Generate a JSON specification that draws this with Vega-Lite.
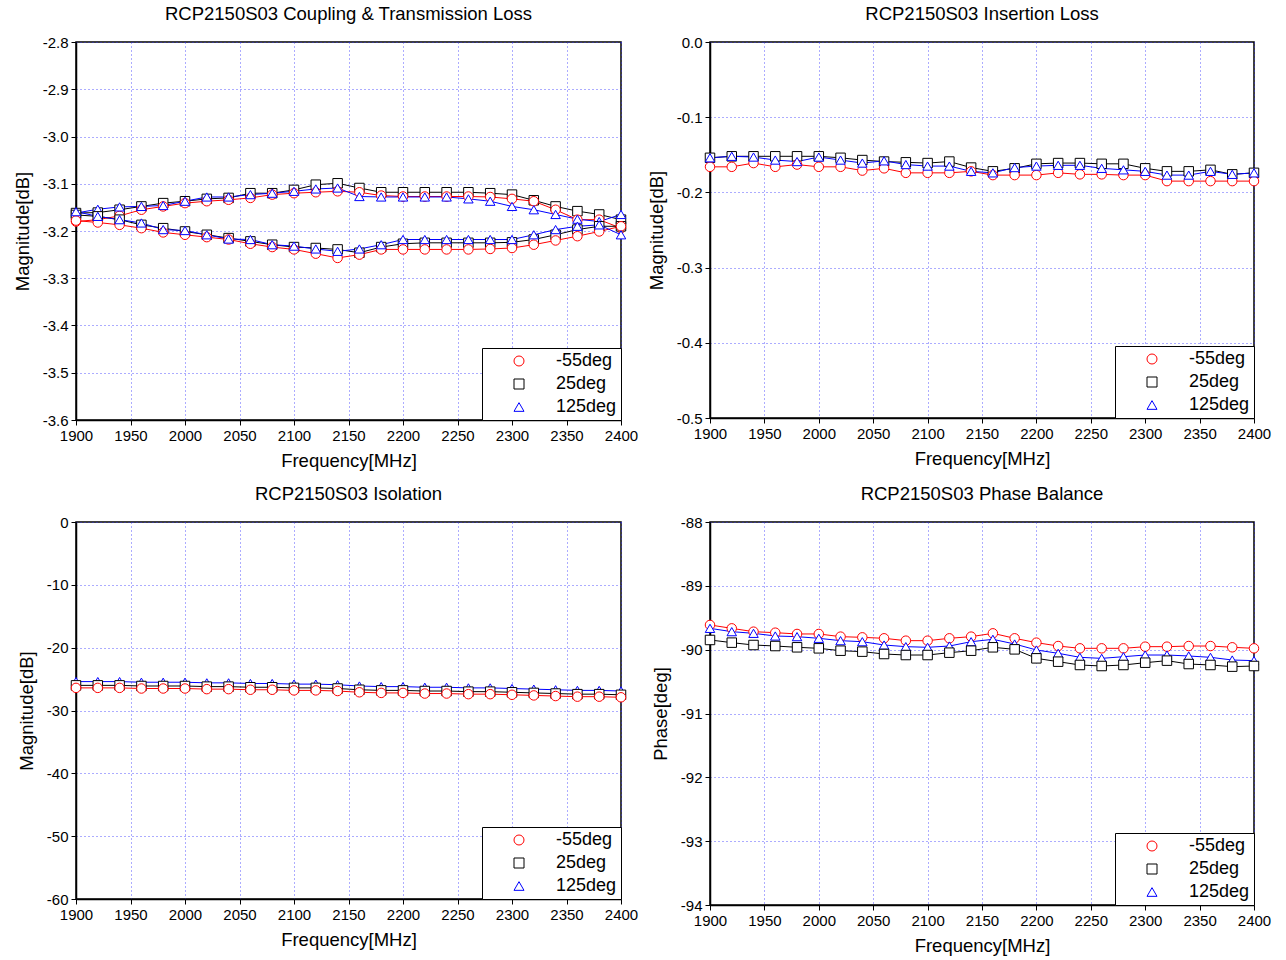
{
  "$schema": "https://vega.github.io/schema/vega-lite/v6.json",
  "background": "white",
  "padding": {"left": 12, "top": 3, "right": 5, "bottom": 0},
  "config": {
    "font": "Liberation Sans",
    "view": {"stroke": "black", "strokeWidth": 1.5},
    "title": {"fontSize": 18.5, "fontWeight": "normal", "font": "Liberation Sans", "color": "black", "offset": 12},
    "axis": {
      "labelFont": "Liberation Sans", "labelFontSize": 15, "labelColor": "black", "labelFlush": false,
      "labelExpr": "replace(datum.label, '\u2212', '-')",
      "titleFont": "Liberation Sans", "titleFontSize": 18.5, "titleFontWeight": "normal", "titleColor": "black",
      "gridColor": "#3030ff", "gridDash": [1, 3], "gridOpacity": 0.8, "gridWidth": 1,
      "domainColor": "black", "domainWidth": 1.5, "tickColor": "black", "tickSize": 5
    },
    "axisX": {"labelPadding": 3, "titlePadding": 8},
    "axisY": {"labelPadding": 3, "titlePadding": 10},
    "legend": {
      "orient": "bottom-right", "offset": 0, "strokeColor": "black", "fillColor": "white",
      "padding": 4, "labelFontSize": 18, "labelFont": "Liberation Sans", "labelColor": "black",
      "symbolSize": 100, "symbolStrokeWidth": 1, "symbolFillColor": "white", "rowPadding": 5,
      "symbolOffset": 24, "labelOffset": 28, "labelAlign": "left",
      "title": null, "labelLimit": 200
    }
  },
  "resolve": {"scale": {"color": "independent", "shape": "independent", "x": "independent", "y": "independent"}, "legend": {"color": "independent", "shape": "independent"}},
  "datasets": {
    "cp": [
      {"t":"25deg","c":"u","f":1900,"v":-3.162},{"t":"25deg","c":"u","f":1920,"v":-3.161},{"t":"25deg","c":"u","f":1940,"v":-3.155},{"t":"25deg","c":"u","f":1960,"v":-3.148},{"t":"25deg","c":"u","f":1980,"v":-3.141},{"t":"25deg","c":"u","f":2000,"v":-3.137},{"t":"25deg","c":"u","f":2020,"v":-3.132},{"t":"25deg","c":"u","f":2040,"v":-3.130},{"t":"25deg","c":"u","f":2060,"v":-3.120},{"t":"25deg","c":"u","f":2080,"v":-3.120},{"t":"25deg","c":"u","f":2100,"v":-3.113},{"t":"25deg","c":"u","f":2120,"v":-3.102},{"t":"25deg","c":"u","f":2140,"v":-3.099},{"t":"25deg","c":"u","f":2160,"v":-3.109},{"t":"25deg","c":"u","f":2180,"v":-3.118},{"t":"25deg","c":"u","f":2200,"v":-3.118},{"t":"25deg","c":"u","f":2220,"v":-3.118},{"t":"25deg","c":"u","f":2240,"v":-3.118},{"t":"25deg","c":"u","f":2260,"v":-3.118},{"t":"25deg","c":"u","f":2280,"v":-3.120},{"t":"25deg","c":"u","f":2300,"v":-3.123},{"t":"25deg","c":"u","f":2320,"v":-3.135},{"t":"25deg","c":"u","f":2340,"v":-3.148},{"t":"25deg","c":"u","f":2360,"v":-3.158},{"t":"25deg","c":"u","f":2380,"v":-3.165},{"t":"25deg","c":"u","f":2400,"v":-3.176},
      {"t":"-55deg","c":"u","f":1900,"v":-3.180},{"t":"-55deg","c":"u","f":1920,"v":-3.176},{"t":"-55deg","c":"u","f":1940,"v":-3.168},{"t":"-55deg","c":"u","f":1960,"v":-3.155},{"t":"-55deg","c":"u","f":1980,"v":-3.148},{"t":"-55deg","c":"u","f":2000,"v":-3.141},{"t":"-55deg","c":"u","f":2020,"v":-3.137},{"t":"-55deg","c":"u","f":2040,"v":-3.134},{"t":"-55deg","c":"u","f":2060,"v":-3.130},{"t":"-55deg","c":"u","f":2080,"v":-3.123},{"t":"-55deg","c":"u","f":2100,"v":-3.120},{"t":"-55deg","c":"u","f":2120,"v":-3.118},{"t":"-55deg","c":"u","f":2140,"v":-3.116},{"t":"-55deg","c":"u","f":2160,"v":-3.118},{"t":"-55deg","c":"u","f":2180,"v":-3.125},{"t":"-55deg","c":"u","f":2200,"v":-3.127},{"t":"-55deg","c":"u","f":2220,"v":-3.127},{"t":"-55deg","c":"u","f":2240,"v":-3.127},{"t":"-55deg","c":"u","f":2260,"v":-3.127},{"t":"-55deg","c":"u","f":2280,"v":-3.128},{"t":"-55deg","c":"u","f":2300,"v":-3.132},{"t":"-55deg","c":"u","f":2320,"v":-3.137},{"t":"-55deg","c":"u","f":2340,"v":-3.155},{"t":"-55deg","c":"u","f":2360,"v":-3.176},{"t":"-55deg","c":"u","f":2380,"v":-3.176},{"t":"-55deg","c":"u","f":2400,"v":-3.194},
      {"t":"125deg","c":"u","f":1900,"v":-3.162},{"t":"125deg","c":"u","f":1920,"v":-3.154},{"t":"125deg","c":"u","f":1940,"v":-3.149},{"t":"125deg","c":"u","f":1960,"v":-3.148},{"t":"125deg","c":"u","f":1980,"v":-3.146},{"t":"125deg","c":"u","f":2000,"v":-3.137},{"t":"125deg","c":"u","f":2020,"v":-3.128},{"t":"125deg","c":"u","f":2040,"v":-3.128},{"t":"125deg","c":"u","f":2060,"v":-3.123},{"t":"125deg","c":"u","f":2080,"v":-3.120},{"t":"125deg","c":"u","f":2100,"v":-3.116},{"t":"125deg","c":"u","f":2120,"v":-3.111},{"t":"125deg","c":"u","f":2140,"v":-3.109},{"t":"125deg","c":"u","f":2160,"v":-3.127},{"t":"125deg","c":"u","f":2180,"v":-3.128},{"t":"125deg","c":"u","f":2200,"v":-3.128},{"t":"125deg","c":"u","f":2220,"v":-3.128},{"t":"125deg","c":"u","f":2240,"v":-3.128},{"t":"125deg","c":"u","f":2260,"v":-3.132},{"t":"125deg","c":"u","f":2280,"v":-3.137},{"t":"125deg","c":"u","f":2300,"v":-3.148},{"t":"125deg","c":"u","f":2320,"v":-3.155},{"t":"125deg","c":"u","f":2340,"v":-3.165},{"t":"125deg","c":"u","f":2360,"v":-3.175},{"t":"125deg","c":"u","f":2380,"v":-3.180},{"t":"125deg","c":"u","f":2400,"v":-3.165},
      {"t":"25deg","c":"l","f":1900,"v":-3.166},{"t":"25deg","c":"l","f":1920,"v":-3.169},{"t":"25deg","c":"l","f":1940,"v":-3.176},{"t":"25deg","c":"l","f":1960,"v":-3.187},{"t":"25deg","c":"l","f":1980,"v":-3.194},{"t":"25deg","c":"l","f":2000,"v":-3.201},{"t":"25deg","c":"l","f":2020,"v":-3.208},{"t":"25deg","c":"l","f":2040,"v":-3.215},{"t":"25deg","c":"l","f":2060,"v":-3.222},{"t":"25deg","c":"l","f":2080,"v":-3.229},{"t":"25deg","c":"l","f":2100,"v":-3.234},{"t":"25deg","c":"l","f":2120,"v":-3.236},{"t":"25deg","c":"l","f":2140,"v":-3.239},{"t":"25deg","c":"l","f":2160,"v":-3.246},{"t":"25deg","c":"l","f":2180,"v":-3.234},{"t":"25deg","c":"l","f":2200,"v":-3.227},{"t":"25deg","c":"l","f":2220,"v":-3.225},{"t":"25deg","c":"l","f":2240,"v":-3.225},{"t":"25deg","c":"l","f":2260,"v":-3.225},{"t":"25deg","c":"l","f":2280,"v":-3.225},{"t":"25deg","c":"l","f":2300,"v":-3.224},{"t":"25deg","c":"l","f":2320,"v":-3.218},{"t":"25deg","c":"l","f":2340,"v":-3.208},{"t":"25deg","c":"l","f":2360,"v":-3.197},{"t":"25deg","c":"l","f":2380,"v":-3.190},{"t":"25deg","c":"l","f":2400,"v":-3.190},
      {"t":"-55deg","c":"l","f":1900,"v":-3.178},{"t":"-55deg","c":"l","f":1920,"v":-3.182},{"t":"-55deg","c":"l","f":1940,"v":-3.187},{"t":"-55deg","c":"l","f":1960,"v":-3.194},{"t":"-55deg","c":"l","f":1980,"v":-3.203},{"t":"-55deg","c":"l","f":2000,"v":-3.208},{"t":"-55deg","c":"l","f":2020,"v":-3.213},{"t":"-55deg","c":"l","f":2040,"v":-3.218},{"t":"-55deg","c":"l","f":2060,"v":-3.227},{"t":"-55deg","c":"l","f":2080,"v":-3.234},{"t":"-55deg","c":"l","f":2100,"v":-3.239},{"t":"-55deg","c":"l","f":2120,"v":-3.248},{"t":"-55deg","c":"l","f":2140,"v":-3.257},{"t":"-55deg","c":"l","f":2160,"v":-3.250},{"t":"-55deg","c":"l","f":2180,"v":-3.239},{"t":"-55deg","c":"l","f":2200,"v":-3.239},{"t":"-55deg","c":"l","f":2220,"v":-3.239},{"t":"-55deg","c":"l","f":2240,"v":-3.239},{"t":"-55deg","c":"l","f":2260,"v":-3.239},{"t":"-55deg","c":"l","f":2280,"v":-3.238},{"t":"-55deg","c":"l","f":2300,"v":-3.236},{"t":"-55deg","c":"l","f":2320,"v":-3.229},{"t":"-55deg","c":"l","f":2340,"v":-3.220},{"t":"-55deg","c":"l","f":2360,"v":-3.211},{"t":"-55deg","c":"l","f":2380,"v":-3.201},{"t":"-55deg","c":"l","f":2400,"v":-3.190},
      {"t":"125deg","c":"l","f":1900,"v":-3.159},{"t":"125deg","c":"l","f":1920,"v":-3.169},{"t":"125deg","c":"l","f":1940,"v":-3.176},{"t":"125deg","c":"l","f":1960,"v":-3.183},{"t":"125deg","c":"l","f":1980,"v":-3.197},{"t":"125deg","c":"l","f":2000,"v":-3.199},{"t":"125deg","c":"l","f":2020,"v":-3.208},{"t":"125deg","c":"l","f":2040,"v":-3.217},{"t":"125deg","c":"l","f":2060,"v":-3.218},{"t":"125deg","c":"l","f":2080,"v":-3.229},{"t":"125deg","c":"l","f":2100,"v":-3.232},{"t":"125deg","c":"l","f":2120,"v":-3.238},{"t":"125deg","c":"l","f":2140,"v":-3.243},{"t":"125deg","c":"l","f":2160,"v":-3.238},{"t":"125deg","c":"l","f":2180,"v":-3.229},{"t":"125deg","c":"l","f":2200,"v":-3.218},{"t":"125deg","c":"l","f":2220,"v":-3.218},{"t":"125deg","c":"l","f":2240,"v":-3.218},{"t":"125deg","c":"l","f":2260,"v":-3.218},{"t":"125deg","c":"l","f":2280,"v":-3.218},{"t":"125deg","c":"l","f":2300,"v":-3.218},{"t":"125deg","c":"l","f":2320,"v":-3.208},{"t":"125deg","c":"l","f":2340,"v":-3.197},{"t":"125deg","c":"l","f":2360,"v":-3.190},{"t":"125deg","c":"l","f":2380,"v":-3.187},{"t":"125deg","c":"l","f":2400,"v":-3.208}
    ],
    "il": [
      {"t":"25deg","f":1900,"v":-0.154},{"t":"25deg","f":1920,"v":-0.152},{"t":"25deg","f":1940,"v":-0.152},{"t":"25deg","f":1960,"v":-0.152},{"t":"25deg","f":1980,"v":-0.152},{"t":"25deg","f":2000,"v":-0.152},{"t":"25deg","f":2020,"v":-0.154},{"t":"25deg","f":2040,"v":-0.157},{"t":"25deg","f":2060,"v":-0.159},{"t":"25deg","f":2080,"v":-0.160},{"t":"25deg","f":2100,"v":-0.161},{"t":"25deg","f":2120,"v":-0.159},{"t":"25deg","f":2140,"v":-0.167},{"t":"25deg","f":2160,"v":-0.172},{"t":"25deg","f":2180,"v":-0.168},{"t":"25deg","f":2200,"v":-0.162},{"t":"25deg","f":2220,"v":-0.161},{"t":"25deg","f":2240,"v":-0.161},{"t":"25deg","f":2260,"v":-0.162},{"t":"25deg","f":2280,"v":-0.162},{"t":"25deg","f":2300,"v":-0.168},{"t":"25deg","f":2320,"v":-0.172},{"t":"25deg","f":2340,"v":-0.172},{"t":"25deg","f":2360,"v":-0.170},{"t":"25deg","f":2380,"v":-0.176},{"t":"25deg","f":2400,"v":-0.174},
      {"t":"-55deg","f":1900,"v":-0.166},{"t":"-55deg","f":1920,"v":-0.166},{"t":"-55deg","f":1940,"v":-0.161},{"t":"-55deg","f":1960,"v":-0.166},{"t":"-55deg","f":1980,"v":-0.163},{"t":"-55deg","f":2000,"v":-0.166},{"t":"-55deg","f":2020,"v":-0.166},{"t":"-55deg","f":2040,"v":-0.171},{"t":"-55deg","f":2060,"v":-0.168},{"t":"-55deg","f":2080,"v":-0.174},{"t":"-55deg","f":2100,"v":-0.174},{"t":"-55deg","f":2120,"v":-0.174},{"t":"-55deg","f":2140,"v":-0.172},{"t":"-55deg","f":2160,"v":-0.177},{"t":"-55deg","f":2180,"v":-0.177},{"t":"-55deg","f":2200,"v":-0.177},{"t":"-55deg","f":2220,"v":-0.174},{"t":"-55deg","f":2240,"v":-0.176},{"t":"-55deg","f":2260,"v":-0.176},{"t":"-55deg","f":2280,"v":-0.177},{"t":"-55deg","f":2300,"v":-0.177},{"t":"-55deg","f":2320,"v":-0.185},{"t":"-55deg","f":2340,"v":-0.185},{"t":"-55deg","f":2360,"v":-0.185},{"t":"-55deg","f":2380,"v":-0.185},{"t":"-55deg","f":2400,"v":-0.185},
      {"t":"125deg","f":1900,"v":-0.154},{"t":"125deg","f":1920,"v":-0.152},{"t":"125deg","f":1940,"v":-0.153},{"t":"125deg","f":1960,"v":-0.157},{"t":"125deg","f":1980,"v":-0.159},{"t":"125deg","f":2000,"v":-0.153},{"t":"125deg","f":2020,"v":-0.157},{"t":"125deg","f":2040,"v":-0.161},{"t":"125deg","f":2060,"v":-0.158},{"t":"125deg","f":2080,"v":-0.163},{"t":"125deg","f":2100,"v":-0.165},{"t":"125deg","f":2120,"v":-0.165},{"t":"125deg","f":2140,"v":-0.172},{"t":"125deg","f":2160,"v":-0.174},{"t":"125deg","f":2180,"v":-0.167},{"t":"125deg","f":2200,"v":-0.165},{"t":"125deg","f":2220,"v":-0.164},{"t":"125deg","f":2240,"v":-0.164},{"t":"125deg","f":2260,"v":-0.168},{"t":"125deg","f":2280,"v":-0.170},{"t":"125deg","f":2300,"v":-0.172},{"t":"125deg","f":2320,"v":-0.177},{"t":"125deg","f":2340,"v":-0.177},{"t":"125deg","f":2360,"v":-0.172},{"t":"125deg","f":2380,"v":-0.176},{"t":"125deg","f":2400,"v":-0.174}
    ],
    "iso": [
      {"t":"125deg","f":1900,"v":-25.4},{"t":"125deg","f":1920,"v":-25.4},{"t":"125deg","f":1940,"v":-25.4},{"t":"125deg","f":1960,"v":-25.5},{"t":"125deg","f":1980,"v":-25.5},{"t":"125deg","f":2000,"v":-25.5},{"t":"125deg","f":2020,"v":-25.6},{"t":"125deg","f":2040,"v":-25.6},{"t":"125deg","f":2060,"v":-25.7},{"t":"125deg","f":2080,"v":-25.7},{"t":"125deg","f":2100,"v":-25.8},{"t":"125deg","f":2120,"v":-25.8},{"t":"125deg","f":2140,"v":-25.9},{"t":"125deg","f":2160,"v":-26.1},{"t":"125deg","f":2180,"v":-26.2},{"t":"125deg","f":2200,"v":-26.2},{"t":"125deg","f":2220,"v":-26.3},{"t":"125deg","f":2240,"v":-26.3},{"t":"125deg","f":2260,"v":-26.4},{"t":"125deg","f":2280,"v":-26.4},{"t":"125deg","f":2300,"v":-26.5},{"t":"125deg","f":2320,"v":-26.6},{"t":"125deg","f":2340,"v":-26.7},{"t":"125deg","f":2360,"v":-26.8},{"t":"125deg","f":2380,"v":-26.8},{"t":"125deg","f":2400,"v":-26.9},
      {"t":"25deg","f":1900,"v":-26.0},{"t":"25deg","f":1920,"v":-26.0},{"t":"25deg","f":1940,"v":-26.0},{"t":"25deg","f":1960,"v":-26.1},{"t":"25deg","f":1980,"v":-26.1},{"t":"25deg","f":2000,"v":-26.1},{"t":"25deg","f":2020,"v":-26.2},{"t":"25deg","f":2040,"v":-26.2},{"t":"25deg","f":2060,"v":-26.3},{"t":"25deg","f":2080,"v":-26.3},{"t":"25deg","f":2100,"v":-26.4},{"t":"25deg","f":2120,"v":-26.4},{"t":"25deg","f":2140,"v":-26.5},{"t":"25deg","f":2160,"v":-26.7},{"t":"25deg","f":2180,"v":-26.8},{"t":"25deg","f":2200,"v":-26.8},{"t":"25deg","f":2220,"v":-26.9},{"t":"25deg","f":2240,"v":-26.9},{"t":"25deg","f":2260,"v":-27.0},{"t":"25deg","f":2280,"v":-27.0},{"t":"25deg","f":2300,"v":-27.1},{"t":"25deg","f":2320,"v":-27.2},{"t":"25deg","f":2340,"v":-27.3},{"t":"25deg","f":2360,"v":-27.4},{"t":"25deg","f":2380,"v":-27.4},{"t":"25deg","f":2400,"v":-27.5},
      {"t":"-55deg","f":1900,"v":-26.4},{"t":"-55deg","f":1920,"v":-26.4},{"t":"-55deg","f":1940,"v":-26.4},{"t":"-55deg","f":1960,"v":-26.5},{"t":"-55deg","f":1980,"v":-26.5},{"t":"-55deg","f":2000,"v":-26.5},{"t":"-55deg","f":2020,"v":-26.6},{"t":"-55deg","f":2040,"v":-26.6},{"t":"-55deg","f":2060,"v":-26.7},{"t":"-55deg","f":2080,"v":-26.7},{"t":"-55deg","f":2100,"v":-26.8},{"t":"-55deg","f":2120,"v":-26.8},{"t":"-55deg","f":2140,"v":-26.9},{"t":"-55deg","f":2160,"v":-27.1},{"t":"-55deg","f":2180,"v":-27.2},{"t":"-55deg","f":2200,"v":-27.2},{"t":"-55deg","f":2220,"v":-27.3},{"t":"-55deg","f":2240,"v":-27.3},{"t":"-55deg","f":2260,"v":-27.4},{"t":"-55deg","f":2280,"v":-27.4},{"t":"-55deg","f":2300,"v":-27.5},{"t":"-55deg","f":2320,"v":-27.6},{"t":"-55deg","f":2340,"v":-27.7},{"t":"-55deg","f":2360,"v":-27.8},{"t":"-55deg","f":2380,"v":-27.8},{"t":"-55deg","f":2400,"v":-27.9}
    ],
    "ph": [
      {"t":"-55deg","f":1900,"v":-89.613},{"t":"-55deg","f":1920,"v":-89.666},{"t":"-55deg","f":1940,"v":-89.718},{"t":"-55deg","f":1960,"v":-89.734},{"t":"-55deg","f":1980,"v":-89.754},{"t":"-55deg","f":2000,"v":-89.754},{"t":"-55deg","f":2020,"v":-89.796},{"t":"-55deg","f":2040,"v":-89.807},{"t":"-55deg","f":2060,"v":-89.822},{"t":"-55deg","f":2080,"v":-89.859},{"t":"-55deg","f":2100,"v":-89.859},{"t":"-55deg","f":2120,"v":-89.822},{"t":"-55deg","f":2140,"v":-89.796},{"t":"-55deg","f":2160,"v":-89.744},{"t":"-55deg","f":2180,"v":-89.822},{"t":"-55deg","f":2200,"v":-89.890},{"t":"-55deg","f":2220,"v":-89.943},{"t":"-55deg","f":2240,"v":-89.979},{"t":"-55deg","f":2260,"v":-89.979},{"t":"-55deg","f":2280,"v":-89.979},{"t":"-55deg","f":2300,"v":-89.953},{"t":"-55deg","f":2320,"v":-89.953},{"t":"-55deg","f":2340,"v":-89.943},{"t":"-55deg","f":2360,"v":-89.943},{"t":"-55deg","f":2380,"v":-89.963},{"t":"-55deg","f":2400,"v":-89.979},
      {"t":"125deg","f":1900,"v":-89.666},{"t":"125deg","f":1920,"v":-89.718},{"t":"125deg","f":1940,"v":-89.744},{"t":"125deg","f":1960,"v":-89.786},{"t":"125deg","f":1980,"v":-89.796},{"t":"125deg","f":2000,"v":-89.822},{"t":"125deg","f":2020,"v":-89.859},{"t":"125deg","f":2040,"v":-89.875},{"t":"125deg","f":2060,"v":-89.927},{"t":"125deg","f":2080,"v":-89.953},{"t":"125deg","f":2100,"v":-89.963},{"t":"125deg","f":2120,"v":-89.943},{"t":"125deg","f":2140,"v":-89.875},{"t":"125deg","f":2160,"v":-89.838},{"t":"125deg","f":2180,"v":-89.911},{"t":"125deg","f":2200,"v":-90.005},{"t":"125deg","f":2220,"v":-90.057},{"t":"125deg","f":2240,"v":-90.120},{"t":"125deg","f":2260,"v":-90.136},{"t":"125deg","f":2280,"v":-90.110},{"t":"125deg","f":2300,"v":-90.084},{"t":"125deg","f":2320,"v":-90.084},{"t":"125deg","f":2340,"v":-90.099},{"t":"125deg","f":2360,"v":-90.120},{"t":"125deg","f":2380,"v":-90.162},{"t":"125deg","f":2400,"v":-90.172},
      {"t":"25deg","f":1900,"v":-89.848},{"t":"25deg","f":1920,"v":-89.890},{"t":"25deg","f":1940,"v":-89.927},{"t":"25deg","f":1960,"v":-89.943},{"t":"25deg","f":1980,"v":-89.963},{"t":"25deg","f":2000,"v":-89.979},{"t":"25deg","f":2020,"v":-90.016},{"t":"25deg","f":2040,"v":-90.031},{"t":"25deg","f":2060,"v":-90.068},{"t":"25deg","f":2080,"v":-90.084},{"t":"25deg","f":2100,"v":-90.084},{"t":"25deg","f":2120,"v":-90.047},{"t":"25deg","f":2140,"v":-90.016},{"t":"25deg","f":2160,"v":-89.963},{"t":"25deg","f":2180,"v":-89.995},{"t":"25deg","f":2200,"v":-90.136},{"t":"25deg","f":2220,"v":-90.188},{"t":"25deg","f":2240,"v":-90.240},{"t":"25deg","f":2260,"v":-90.256},{"t":"25deg","f":2280,"v":-90.240},{"t":"25deg","f":2300,"v":-90.204},{"t":"25deg","f":2320,"v":-90.172},{"t":"25deg","f":2340,"v":-90.225},{"t":"25deg","f":2360,"v":-90.240},{"t":"25deg","f":2380,"v":-90.266},{"t":"25deg","f":2400,"v":-90.256}
    ]
  },
  "columns": 2,
  "spacing": {"row": 12, "column": 7},
  "concat": [
    {
      "title": "RCP2150S03 Coupling & Transmission Loss",
      "width": 545, "height": 378,
      "data": {"name": "cp"},
      "encoding": {
        "x": {"field": "f", "type": "quantitative", "scale": {"domain": [1900, 2400], "nice": false}, "axis": {"values": [1900,1950,2000,2050,2100,2150,2200,2250,2300,2350,2400], "format": "d", "title": "Frequency[MHz]"}},
        "y": {"field": "v", "type": "quantitative", "scale": {"domain": [-3.6, -2.8], "nice": false, "zero": false}, "axis": {"values": [-3.6,-3.5,-3.4,-3.3,-3.2,-3.1,-3.0,-2.9,-2.8], "format": ".1f", "title": "Magnitude[dB]"}},
        "color": {"field": "t", "type": "nominal", "scale": {"domain": ["-55deg","25deg","125deg"], "range": ["#ff0000","#000000","#0000ff"]}}
      },
      "layer": [
        {"mark": {"type": "line", "strokeWidth": 1}, "encoding": {"detail": {"field": "c"}}},
        {"mark": {"type": "point", "filled": false, "fill": "white", "fillOpacity": 1, "size": 90, "strokeWidth": 1}, "encoding": {"detail": {"field": "c"}, "shape": {"field": "t", "type": "nominal", "scale": {"domain": ["-55deg","25deg","125deg"], "range": ["circle","square","triangle-up"]}}}}
      ]
    },
    {
      "title": "RCP2150S03 Insertion Loss",
      "width": 544, "height": 376,
      "data": {"name": "il"},
      "encoding": {
        "x": {"field": "f", "type": "quantitative", "scale": {"domain": [1900, 2400], "nice": false}, "axis": {"values": [1900,1950,2000,2050,2100,2150,2200,2250,2300,2350,2400], "format": "d", "title": "Frequency[MHz]"}},
        "y": {"field": "v", "type": "quantitative", "scale": {"domain": [-0.5, 0], "nice": false, "zero": false}, "axis": {"values": [-0.5,-0.4,-0.3,-0.2,-0.1,0], "format": ".1f", "title": "Magnitude[dB]"}},
        "color": {"field": "t", "type": "nominal", "scale": {"domain": ["-55deg","25deg","125deg"], "range": ["#ff0000","#000000","#0000ff"]}}
      },
      "layer": [
        {"mark": {"type": "line", "strokeWidth": 1}, "encoding": {}},
        {"mark": {"type": "point", "filled": false, "fill": "white", "fillOpacity": 1, "size": 90, "strokeWidth": 1}, "encoding": {"shape": {"field": "t", "type": "nominal", "scale": {"domain": ["-55deg","25deg","125deg"], "range": ["circle","square","triangle-up"]}}}}
      ]
    },
    {
      "title": "RCP2150S03 Isolation",
      "width": 545, "height": 377,
      "data": {"name": "iso"},
      "encoding": {
        "x": {"field": "f", "type": "quantitative", "scale": {"domain": [1900, 2400], "nice": false}, "axis": {"values": [1900,1950,2000,2050,2100,2150,2200,2250,2300,2350,2400], "format": "d", "title": "Frequency[MHz]"}},
        "y": {"field": "v", "type": "quantitative", "scale": {"domain": [-60, 0], "nice": false, "zero": false}, "axis": {"values": [-60,-50,-40,-30,-20,-10,0], "format": "d", "title": "Magnitude[dB]"}},
        "color": {"field": "t", "type": "nominal", "scale": {"domain": ["-55deg","25deg","125deg"], "range": ["#ff0000","#000000","#0000ff"]}}
      },
      "layer": [
        {"mark": {"type": "line", "strokeWidth": 1}, "encoding": {}},
        {"mark": {"type": "point", "filled": false, "fill": "white", "fillOpacity": 1, "size": 90, "strokeWidth": 1}, "encoding": {"shape": {"field": "t", "type": "nominal", "scale": {"domain": ["-55deg","25deg","125deg"], "range": ["circle","square","triangle-up"]}}}}
      ]
    },
    {
      "title": "RCP2150S03 Phase Balance",
      "width": 544, "height": 383,
      "data": {"name": "ph"},
      "encoding": {
        "x": {"field": "f", "type": "quantitative", "scale": {"domain": [1900, 2400], "nice": false}, "axis": {"values": [1900,1950,2000,2050,2100,2150,2200,2250,2300,2350,2400], "format": "d", "title": "Frequency[MHz]"}},
        "y": {"field": "v", "type": "quantitative", "scale": {"domain": [-94, -88], "nice": false, "zero": false}, "axis": {"values": [-94,-93,-92,-91,-90,-89,-88], "format": "d", "title": "Phase[deg]"}},
        "color": {"field": "t", "type": "nominal", "scale": {"domain": ["-55deg","25deg","125deg"], "range": ["#ff0000","#000000","#0000ff"]}}
      },
      "layer": [
        {"mark": {"type": "line", "strokeWidth": 1}, "encoding": {}},
        {"mark": {"type": "point", "filled": false, "fill": "white", "fillOpacity": 1, "size": 90, "strokeWidth": 1}, "encoding": {"shape": {"field": "t", "type": "nominal", "scale": {"domain": ["-55deg","25deg","125deg"], "range": ["circle","square","triangle-up"]}}}}
      ]
    }
  ]
}
